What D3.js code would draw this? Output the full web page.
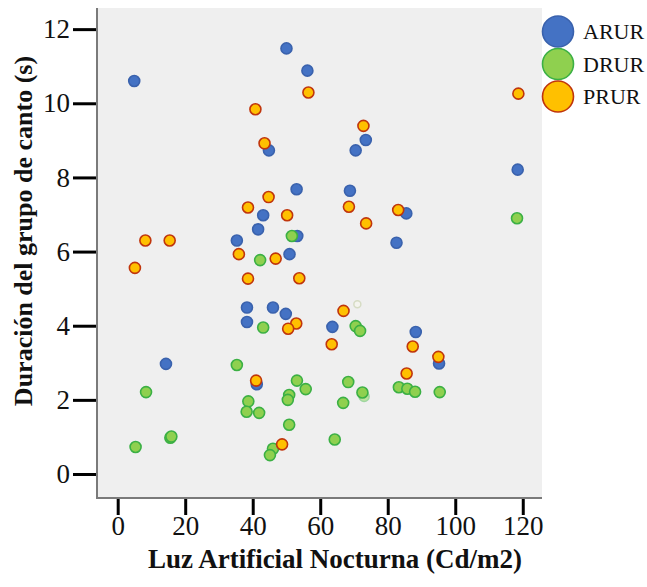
<!DOCTYPE html>
<html>
<head>
<meta charset="utf-8">
<script src="https://cdn.jsdelivr.net/npm/d3@7"></script>
<style>
  body { margin: 0; background: #fff; }
  svg { display: block; font-family: "Liberation Serif", "Times New Roman", serif; }
</style>
</head>
<body>
<svg id="chart" width="647" height="587"></svg>
<script>
// series: [luz, duración]
const arur = [
  [50.0, 11.48], [56.2, 10.88], [4.9, 10.6], [44.8, 8.73], [53.0, 7.68],
  [43.1, 6.98], [41.6, 6.60], [53.2, 6.42], [35.3, 6.30], [50.9, 5.93],
  [73.5, 9.01], [70.5, 8.73], [118.5, 8.21], [68.8, 7.64], [85.5, 7.03],
  [82.6, 6.24], [38.3, 4.49], [46.0, 4.49], [49.8, 4.32], [38.3, 4.10],
  [14.3, 2.97], [41.2, 2.42], [63.6, 3.97], [88.3, 3.83], [95.2, 2.98]
];
const drur = [
  [51.6, 6.42], [42.2, 5.77], [118.3, 6.90], [43.1, 3.95], [35.3, 2.94],
  [53.1, 2.52], [55.7, 2.29], [8.4, 2.21], [38.7, 1.96], [50.8, 2.13],
  [50.4, 2.00], [38.2, 1.68], [41.9, 1.65], [50.8, 1.33], [15.6, 0.98],
  [15.9, 1.01], [5.3, 0.73], [46.0, 0.68], [45.1, 0.51], [70.5, 3.99],
  [71.8, 3.86], [68.3, 2.48], [72.5, 2.20], [66.8, 1.92], [83.3, 2.34],
  [85.8, 2.30], [88.1, 2.22], [95.4, 2.21], [64.3, 0.93]
];
const prur = [
  [56.5, 10.29], [40.8, 9.84], [43.5, 8.92], [44.7, 7.47], [38.6, 7.19],
  [50.2, 6.98], [8.2, 6.30], [15.4, 6.30], [35.9, 5.93], [46.8, 5.81],
  [118.7, 10.26], [72.8, 9.39], [68.5, 7.21], [83.1, 7.12], [73.6, 6.76],
  [5.1, 5.56], [38.6, 5.27], [53.8, 5.28], [52.9, 4.06], [50.5, 3.92],
  [41.0, 2.52], [48.7, 0.80], [66.9, 4.40], [63.4, 3.50], [87.4, 3.44],
  [95.0, 3.16], [85.6, 2.71]
];
// faint, almost transparent marks
const faint = [[71.0, 4.58], [73.0, 2.09]];

const xTicks = [0, 20, 40, 60, 80, 100, 120];
const yTicks = [0, 2, 4, 6, 8, 10, 12];
const seriesNames = ["ARUR", "DRUR", "PRUR"];

const styles = {
  ARUR: { fill: "#4472c4", stroke: "#3a62ad" },
  DRUR: { fill: "#8fd04f", stroke: "#3bb044" },
  PRUR: { fill: "#ffc000", stroke: "#c0350c" }
};

const svg = d3.select("#chart");
const plotLeft = 97, plotRight = 542, plotTop = 8, plotBottom = 498;

const x = d3.scaleLinear().domain([-6.13, 125.7]).range([plotLeft, plotRight]);
const y = d3.scaleLinear().domain([-0.647, 12.57]).range([plotBottom, plotTop]);

svg.append("rect")
  .attr("x", plotLeft).attr("y", plotTop)
  .attr("width", plotRight - plotLeft).attr("height", plotBottom - plotTop)
  .attr("fill", "#efefef");

// axes
const yAxis = svg.append("g")
  .attr("transform", `translate(${plotLeft},0)`)
  .call(d3.axisLeft(y).tickValues(yTicks).tickSize(24).tickPadding(3).tickFormat(d3.format("d")));
const xAxis = svg.append("g")
  .attr("transform", `translate(0,${plotBottom})`)
  .call(d3.axisBottom(x).tickValues(xTicks).tickSize(17).tickPadding(1).tickFormat(d3.format("d")));

[xAxis, yAxis].forEach(g => {
  g.attr("font-family", null).attr("font-size", null);
  g.select(".domain").remove();
  g.selectAll(".tick line").attr("stroke", "#000").attr("stroke-width", 3);
  g.selectAll(".tick text")
    .attr("fill", "#111")
    .style("font-size", "27px");
});

svg.append("line")
  .attr("x1", plotLeft).attr("x2", plotLeft).attr("y1", plotTop).attr("y2", plotBottom + 1)
  .attr("stroke", "#7a7a7a").attr("stroke-width", 2);
svg.append("line")
  .attr("x1", plotLeft).attr("x2", plotRight).attr("y1", plotBottom).attr("y2", plotBottom)
  .attr("stroke", "#7a7a7a").attr("stroke-width", 2);

// faint marks first
svg.append("g").selectAll("circle")
  .data(faint)
  .join("circle")
  .attr("cx", d => x(d[0]))
  .attr("cy", d => y(d[1]))
  .attr("r", (d, i) => i === 0 ? 3.5 : 5)
  .attr("fill", (d, i) => i === 0 ? "#f4f4ee" : "#bfe3a0")
  .attr("stroke", (d, i) => i === 0 ? "#d6dcc4" : "#9fd6a0")
  .attr("stroke-width", 1.5);

const data = { ARUR: arur, DRUR: drur, PRUR: prur };
seriesNames.forEach(name => {
  svg.append("g").selectAll("circle")
    .data(data[name])
    .join("circle")
    .attr("cx", d => x(d[0]))
    .attr("cy", d => y(d[1]))
    .attr("r", 5.5)
    .attr("fill", styles[name].fill)
    .attr("stroke", styles[name].stroke)
    .attr("stroke-width", 1.6);
});

// legend
const legend = svg.append("g");
seriesNames.forEach((name, i) => {
  const cy = 31.5 + i * 32.5;
  legend.append("circle")
    .attr("cx", 558).attr("cy", cy).attr("r", 15.5)
    .attr("fill", styles[name].fill)
    .attr("stroke", styles[name].stroke)
    .attr("stroke-width", 1.6);
  legend.append("text")
    .attr("x", 583).attr("y", cy)
    .attr("dominant-baseline", "central")
    .attr("fill", "#111")
    .style("font-size", "22px")
    .text(name);
});

// titles
svg.append("text")
  .attr("x", 335).attr("y", 568)
  .attr("text-anchor", "middle")
  .attr("fill", "#111")
  .style("font-size", "27px").style("font-weight", "bold")
  .text("Luz Artificial Nocturna (Cd/m2)");

svg.append("text")
  .attr("transform", "translate(23,231) rotate(-90)")
  .attr("text-anchor", "middle")
  .attr("dominant-baseline", "central")
  .attr("fill", "#111")
  .style("font-size", "26px").style("font-weight", "bold")
  .text("Duración del grupo de canto (s)");
</script>
</body>
</html>
